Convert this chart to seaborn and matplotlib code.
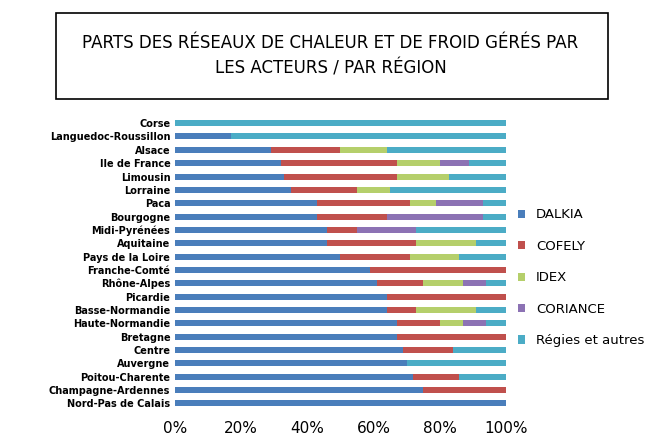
import matplotlib
matplotlib.use("Agg")
import matplotlib.pyplot as plt
import seaborn as sns
import pandas as pd
import numpy as np
from matplotlib.patches import Rectangle

regions = ["Corse","Languedoc-Roussillon","Alsace","Ile de France","Limousin","Lorraine","Paca",
           "Bourgogne","Midi-Pyrénées","Aquitaine","Pays de la Loire","Franche-Comté","Rhône-Alpes",
           "Picardie","Basse-Normandie","Haute-Normandie","Bretagne","Centre","Auvergne",
           "Poitou-Charente","Champagne-Ardennes","Nord-Pas de Calais"]
dalkia   = [0,17,29,32,33,35,43,43,46,46,50,59,61,64,64,67,67,69,70,72,75,100]
cofely   = [0,0,21,35,34,20,28,21,9,27,21,41,14,36,9,13,33,15,0,14,25,0]
idex     = [0,0,14,13,16,10,8,0,0,18,15,0,12,0,18,7,0,0,0,0,0,0]
coriance = [0,0,0,9,0,0,14,29,18,0,0,0,7,0,0,7,0,0,0,0,0,0]
regies   = [100,83,36,11,17,35,7,7,27,9,14,0,6,0,9,6,0,16,30,14,0,0]

series = [("DALKIA",dalkia,"#4a7ebb"),("COFELY",cofely,"#c0504d"),("IDEX",idex,"#b5cf6b"),
          ("CORIANCE",coriance,"#8c72b4"),("Régies et autres",regies,"#4bacc6")]

fig = plt.figure(figsize=(6.61,4.48),dpi=100)
fig.patch.set_facecolor("white")
ax = fig.add_axes([0.265,0.085,0.50,0.655])
cum = np.zeros(len(regions))
for name,vals,col in series:
    v = np.array(vals)
    df = pd.DataFrame({"r":regions,"x":(cum+v)/100})
    sns.barplot(data=df,y="r",x="x",color=col,ax=ax,width=0.45,label=name,saturation=1)
    cum = cum+v
for i,c in enumerate(ax.containers):
    for p in c: p.set_zorder(10-i)
ax.set_xlim(0,1)
ax.set_xticks(np.linspace(0,1,6))
ax.set_xticklabels([f"{int(t*100)}%" for t in np.linspace(0,1,6)],fontsize=11)
ax.set_ylabel(""); ax.set_xlabel("")
for s in ax.spines.values(): s.set_visible(False)
ax.tick_params(length=0)
ax.tick_params(axis="y",labelsize=7)
for t in ax.get_yticklabels(): t.set_fontweight("bold")
ax.xaxis.set_tick_params(pad=8)
h,l = ax.get_legend_handles_labels()
ax.legend(h,l,loc="center left",bbox_to_anchor=(1.0,0.45),frameon=False,fontsize=9.5,
          handlelength=0.6,handleheight=0.6,labelspacing=1.4)
fig.patches.append(Rectangle((0.085,0.78),0.835,0.19,transform=fig.transFigure,fill=False,
                             edgecolor="black",lw=1.2))
fig.text(0.5,0.875,"PARTS DES RÉSEAUX DE CHALEUR ET DE FROID GÉRÉS PAR\nLES ACTEURS / PAR RÉGION",
         ha="center",va="center",fontsize=12,linespacing=1.5)
fig.savefig("out.png",dpi=100)
